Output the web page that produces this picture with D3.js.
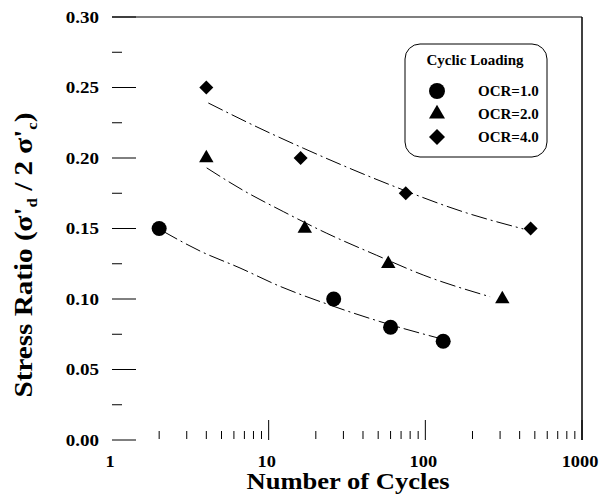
<!DOCTYPE html>
<html>
<head>
<meta charset="utf-8">
<script src="https://cdn.jsdelivr.net/npm/d3@7"></script>
<style>
  body { margin: 0; background: #fff; }
</style>
</head>
<body>
<svg id="chart" width="603" height="498" font-family="'Liberation Serif', 'DejaVu Serif', serif" font-weight="bold"></svg>
<script>
// measured points
const ocr1N = [2, 26, 60, 130];
const ocr1Ratio = [0.15, 0.10, 0.08, 0.07];
const ocr2N = [4, 17, 58, 310];
const ocr2Ratio = [0.20, 0.15, 0.125, 0.10];
const ocr4N = [4, 16, 75, 470];
const ocr4Ratio = [0.25, 0.20, 0.175, 0.15];

// fitted curves
const fit1N = [2.12, 3.65, 6.56, 11.8, 23.5, 51.3, 124];
const fit1Ratio = [0.148, 0.134, 0.122, 0.109, 0.0965, 0.084, 0.072];
const fit2N = [4.02, 6.89, 12.4, 23.5, 48.9, 97, 259];
const fit2Ratio = [0.193, 0.177, 0.162, 0.1466, 0.131, 0.117, 0.1016];
const fit4N = [4.12, 8.8, 16.6, 59.5, 184, 422];
const fit4Ratio = [0.239, 0.221, 0.207, 0.181, 0.161, 0.1497];

const xMajor = [1, 10, 100, 1000];
const yMajor = [0, 0.05, 0.10, 0.15, 0.20, 0.25, 0.30];
const legendLabels = ["OCR=1.0", "OCR=2.0", "OCR=4.0"];

const svg = d3.select("#chart");
const plotL = 112, plotR = 582, plotT = 17, plotB = 440;

const x = d3.scaleLog().domain([1, 1000]).range([plotL, plotR]);
const y = d3.scaleLinear().domain([0, 0.30]).range([plotB, plotT]);

// frame: only top and right survive in the scan
svg.append("line").attr("x1", plotL).attr("x2", plotR).attr("y1", plotT).attr("y2", plotT)
    .attr("stroke", "#000").attr("stroke-width", 1.2);
svg.append("line").attr("x1", plotR).attr("x2", plotR).attr("y1", plotT).attr("y2", plotB)
    .attr("stroke", "#000").attr("stroke-width", 1.5);

// y ticks
const yMinor = d3.range(0.025, 0.30, 0.05);
svg.selectAll(".ymaj").data(yMajor).enter().append("line")
    .attr("x1", plotL).attr("x2", plotL + 24)
    .attr("y1", d => y(d)).attr("y2", d => y(d))
    .attr("stroke", "#000").attr("stroke-width", 1);
svg.selectAll(".ymin").data(yMinor).enter().append("line")
    .attr("x1", plotL).attr("x2", plotL + 10)
    .attr("y1", d => y(d)).attr("y2", d => y(d))
    .attr("stroke", "#000").attr("stroke-width", 1);
svg.selectAll(".ylab").data(yMajor).enter().append("text")
    .attr("transform", d => `translate(99,${y(d)}) scale(1.12,1)`)
    .attr("dy", "0.35em")
    .attr("text-anchor", "end").attr("font-size", 17)
    .text(d => d3.format(".2f")(d));

// x ticks
const xMinor = [];
[1, 10, 100].forEach(dec => { for (let k = 2; k <= 9; k++) xMinor.push(dec * k); });
svg.selectAll(".xmaj").data(xMajor.slice(1)).enter().append("line")
    .attr("x1", d => x(d)).attr("x2", d => x(d))
    .attr("y1", plotB).attr("y2", plotB - 20)
    .attr("stroke", "#000").attr("stroke-width", 1);
svg.selectAll(".xmin").data(xMinor).enter().append("line")
    .attr("x1", d => x(d)).attr("x2", d => x(d))
    .attr("y1", plotB - 1).attr("y2", plotB - 9)
    .attr("stroke", "#000").attr("stroke-width", 1);
svg.selectAll(".xlab").data(xMajor).enter().append("text")
    .attr("transform", d => `translate(${x(d) - 2},467) scale(1.08,1)`)
    .attr("text-anchor", "middle").attr("font-size", 17)
    .text(d => d);

// axis titles
svg.append("text").attr("x", 348).attr("y", 489)
    .attr("text-anchor", "middle").attr("font-size", 23)
    .attr("textLength", 203).attr("lengthAdjust", "spacingAndGlyphs")
    .text("Number of Cycles");

const yTitle = svg.append("text")
    .attr("transform", "translate(32,255) rotate(-90) scale(1.12,1)")
    .attr("text-anchor", "middle").attr("font-size", 26);
yTitle.append("tspan").text("Stress Ratio (σ'");
yTitle.append("tspan").attr("font-size", 15).attr("dy", 5).text("d");
yTitle.append("tspan").attr("dy", -5).text(" / 2 σ'");
yTitle.append("tspan").attr("font-size", 15).attr("dy", 5).text("c");
yTitle.append("tspan").attr("dy", -5).text(")");

// fit curves
const line = d3.line().x(d => x(d[0])).y(d => y(d[1])).curve(d3.curveMonotoneX);
[[fit1N, fit1Ratio], [fit2N, fit2Ratio], [fit4N, fit4Ratio]].forEach(([n, r]) => {
    svg.append("path")
        .datum(n.map((v, i) => [v, r[i]]))
        .attr("d", line)
        .attr("fill", "none").attr("stroke", "#000").attr("stroke-width", 1)
        .attr("stroke-dasharray", "16,4,2,4");
});

// markers
const sym = {
    circle: d3.symbol().type(d3.symbolCircle).size(177),
    triangle: d3.symbol().type(d3.symbolTriangle).size(90),
    diamond: d3.symbol().type(d3.symbolSquare).size(98)
};
const legendSym = {
    circle: d3.symbol().type(d3.symbolCircle).size(200),
    triangle: d3.symbol().type(d3.symbolTriangle).size(111),
    diamond: d3.symbol().type(d3.symbolSquare).size(128)
};
function drawPoints(n, r, shape) {
    svg.selectAll(null).data(n.map((v, i) => [v, r[i]])).enter().append("path")
        .attr("d", sym[shape]())
        .attr("transform", d => `translate(${x(d[0])},${y(d[1])})` + (shape === "diamond" ? " rotate(45)" : ""))
        .attr("fill", "#000");
}
drawPoints(ocr1N, ocr1Ratio, "circle");
drawPoints(ocr2N, ocr2Ratio, "triangle");
drawPoints(ocr4N, ocr4Ratio, "diamond");

// legend
const lg = svg.append("g");
lg.append("rect").attr("x", 405).attr("y", 44).attr("width", 142).attr("height", 113)
    .attr("rx", 15).attr("ry", 15)
    .attr("fill", "#fff").attr("stroke", "#000").attr("stroke-width", 1);
lg.append("text").attr("x", 475).attr("y", 65).attr("text-anchor", "middle")
    .attr("font-size", 15).text("Cyclic Loading");
const shapes = ["circle", "triangle", "diamond"];
const rowsY = [91, 114, 137];
shapes.forEach((s, i) => {
    lg.append("path").attr("d", legendSym[s]())
        .attr("transform", `translate(437,${rowsY[i]})` + (s === "diamond" ? " rotate(45)" : ""))
        .attr("fill", "#000");
    lg.append("text").attr("x", 478).attr("y", rowsY[i]).attr("dy", "0.35em")
        .attr("font-size", 15).text(legendLabels[i]);
});
</script>
</body>
</html>
